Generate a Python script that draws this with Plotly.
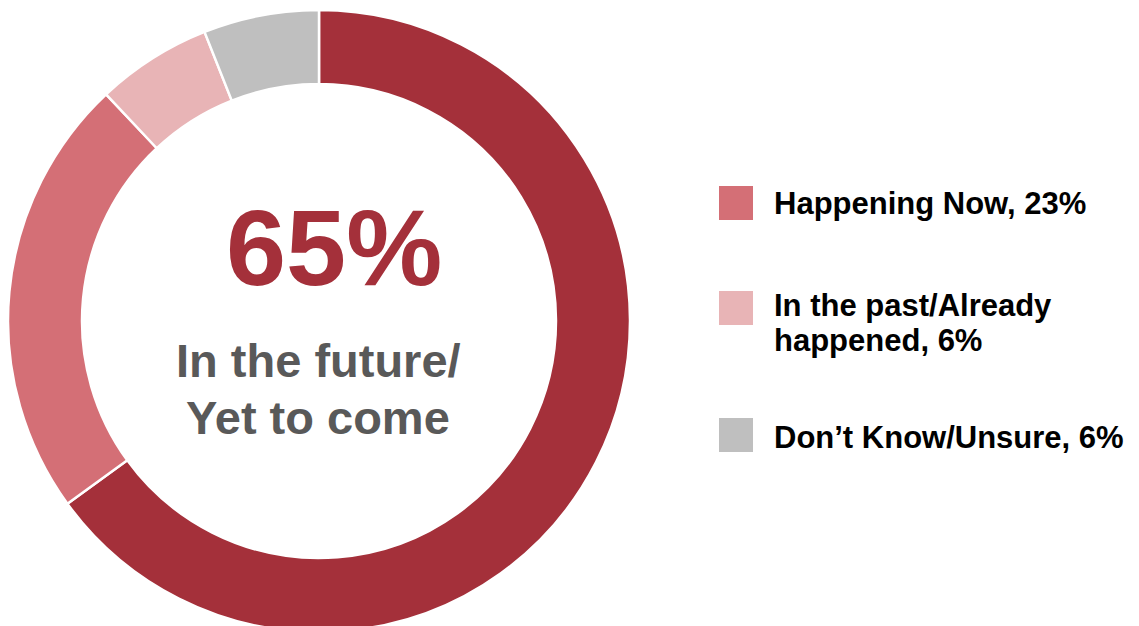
import plotly.graph_objects as go

# Survey responses: when does the respondent think it happens
categories = ["In the future/Yet to come", "Happening Now", "In the past/Already happened", "Don\u2019t Know/Unsure"]
values = [65, 23, 6, 6]
colors = ["#A4303A", "#D46F76", "#E8B4B6", "#BFBFBF"]

# Legend rows (first slice is called out in the centre of the ring instead)
legend_lines = [
    ["Happening Now, 23%"],
    ["In the past/Already", "happened, 6%"],
    ["Don\u2019t Know/Unsure, 6%"],
]
center_value = "65%"
center_lines = ["In the future/", "Yet to come"]

W, H = 1139, 632
TOP = 10
FONT = "Liberation Sans, Arial, sans-serif"


def px_x(x):
    return x / W


def px_y(y):
    return (H - y) / (H - TOP)


fig = go.Figure()
fig.add_trace(go.Pie(
    labels=categories,
    values=values,
    sort=False,
    direction="clockwise",
    rotation=0,
    hole=0.762,
    marker=dict(colors=colors, line=dict(color="white", width=2.5)),
    textinfo="none",
    hoverinfo="label+percent",
    showlegend=False,
    domain=dict(x=[0, 638 / W], y=[0, 1]),
))

annotations = []
shapes = []

# Centre call-out
annotations.append(dict(
    x=px_x(334), y=px_y(248), xref="paper", yref="paper",
    text=f"<b>{center_value}</b>", showarrow=False,
    xanchor="center", yanchor="middle",
    font=dict(family=FONT, size=108, color=colors[0]),
))
for i, line in enumerate(center_lines):
    annotations.append(dict(
        x=px_x(318), y=px_y(360.5 + 57 * i), xref="paper", yref="paper",
        text=f"<b>{line}</b>", showarrow=False,
        xanchor="center", yanchor="middle",
        font=dict(family=FONT, size=47, color="#595959"),
    ))

# Custom legend: swatch + label lines
swatch_centers = [203, 308, 435]
text_first_line = [203.5, 305, 437.5]
for k, (lines, sc, ty) in enumerate(zip(legend_lines, swatch_centers, text_first_line)):
    shapes.append(dict(
        type="rect", xref="paper", yref="paper",
        x0=px_x(719), x1=px_x(753), y0=px_y(sc - 17), y1=px_y(sc + 17),
        fillcolor=colors[k + 1], line=dict(width=0),
    ))
    for j, line in enumerate(lines):
        annotations.append(dict(
            x=px_x(772), y=px_y(ty + 35 * j), xref="paper", yref="paper",
            text=f"<b>{line}</b>", showarrow=False,
            xanchor="left", yanchor="middle",
            font=dict(family=FONT, size=31, color="#000000"),
        ))

fig.update_layout(
    width=W, height=H,
    margin=dict(l=0, r=0, t=TOP, b=0, pad=0),
    paper_bgcolor="white", plot_bgcolor="white",
    annotations=annotations, shapes=shapes,
)

fig.write_html(
    "out.html",
    post_script="document.documentElement.style.overflow='hidden';document.body.style.overflow='hidden';document.body.style.margin='0';",
)
